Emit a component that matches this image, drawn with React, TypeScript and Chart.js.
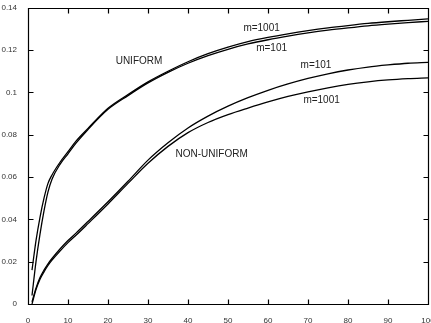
import React, { useEffect, useRef } from "react";
import { Chart, registerables } from "chart.js";

Chart.register(...registerables);

const xs = [1, 2, 3, 4, 5, 6, 8, 10, 12, 15, 20, 25, 30, 35, 40, 45, 50, 55, 60, 65, 70, 75, 80, 85, 90, 95, 100];

const uniform1001 = [0.016, 0.030, 0.041, 0.050, 0.057, 0.061, 0.067, 0.072, 0.077, 0.083, 0.0925, 0.099, 0.105, 0.110, 0.1145, 0.1183, 0.1214, 0.124, 0.126, 0.1277, 0.1292, 0.1305, 0.1316, 0.1326, 0.1334, 0.1341, 0.1348];
const uniform101 = [0.004, 0.020, 0.033, 0.044, 0.053, 0.059, 0.066, 0.071, 0.076, 0.0825, 0.092, 0.0985, 0.1045, 0.1095, 0.1138, 0.1174, 0.1204, 0.1229, 0.1249, 0.1266, 0.1281, 0.1294, 0.1305, 0.1315, 0.1323, 0.133, 0.1336];
const nonUniform101 = [0.001, 0.0075, 0.0125, 0.016, 0.019, 0.0215, 0.026, 0.030, 0.0335, 0.039, 0.0483, 0.058, 0.068, 0.0762, 0.0832, 0.0888, 0.0935, 0.0975, 0.101, 0.104, 0.1066, 0.1088, 0.1106, 0.112, 0.113, 0.1138, 0.1142];
const nonUniform1001 = [0.0, 0.0068, 0.0117, 0.0152, 0.0182, 0.0207, 0.025, 0.029, 0.0325, 0.038, 0.0473, 0.057, 0.0665, 0.0745, 0.081, 0.0858, 0.0895, 0.0926, 0.0955, 0.0981, 0.1003, 0.1022, 0.1038, 0.105, 0.1059, 0.1065, 0.1069];

const xTickValues = [0, 10, 20, 30, 40, 50, 60, 70, 80, 90, 100];
const xTickLabels = ["0", "10", "20", "30", "40", "50", "60", "70", "80", "90", "100"];
const yTickValues = [0, 0.02, 0.04, 0.06, 0.08, 0.1, 0.12, 0.14];
const yTickLabels = ["0", "0.02", "0.04", "0.06", "0.08", "0.1", "0.12", "0.14"];

const annotationTexts = ["UNIFORM", "m=1001", "m=101", "m=101", "m=1001", "NON-UNIFORM"];
const annotationX = [27.75, 58.4, 60.9, 72, 73.4, 45.9];
const annotationY = [0.1147, 0.1304, 0.1208, 0.1128, 0.0964, 0.0707];

const FONT = "'Liberation Sans', Arial, sans-serif";

const toPoints = (ys: number[]) => xs.map((x, i) => ({ x, y: ys[i] }));

const framePlugin = {
  id: "frame",
  afterDraw(chart: any) {
    const ctx = chart.ctx;
    const sx = chart.scales.x;
    const sy = chart.scales.y;
    const left = Math.round(chart.chartArea.left) + 0.5;
    const right = Math.round(chart.chartArea.right) + 0.5;
    const top = Math.round(chart.chartArea.top) + 0.5;
    const bottom = Math.round(chart.chartArea.bottom) + 0.5;
    const tl = 5;
    ctx.save();
    ctx.strokeStyle = "#000";
    ctx.lineWidth = 1.2;
    ctx.beginPath();
    ctx.moveTo(left, top);
    ctx.lineTo(right, top);
    ctx.lineTo(right, bottom);
    ctx.lineTo(left, bottom);
    ctx.closePath();
    for (const v of xTickValues) {
      const px = Math.round(sx.getPixelForValue(v)) + 0.5;
      ctx.moveTo(px, bottom);
      ctx.lineTo(px, bottom - tl);
      ctx.moveTo(px, top);
      ctx.lineTo(px, top + tl);
    }
    for (const v of yTickValues) {
      const py = Math.round(sy.getPixelForValue(v)) + 0.5;
      ctx.moveTo(left, py);
      ctx.lineTo(left + tl, py);
      ctx.moveTo(right, py);
      ctx.lineTo(right - tl, py);
    }
    ctx.stroke();
    ctx.fillStyle = "#222";
    ctx.font = `10px ${FONT}`;
    ctx.textAlign = "center";
    ctx.textBaseline = "middle";
    annotationTexts.forEach((txt, i) => {
      ctx.fillText(txt, sx.getPixelForValue(annotationX[i]), sy.getPixelForValue(annotationY[i]));
    });
    ctx.restore();
  },
};

export default function App() {
  const ref = useRef<HTMLCanvasElement | null>(null);
  useEffect(() => {
    if (!ref.current) return;
    const line = (data: number[]) => ({
      data: toPoints(data),
      borderColor: "#000",
      borderWidth: 1.3,
      pointRadius: 0,
      fill: false,
      cubicInterpolationMode: "monotone" as const,
    });
    const chart = new Chart(ref.current, {
      type: "line",
      data: {
        datasets: [line(uniform1001), line(uniform101), line(nonUniform101), line(nonUniform1001)],
      },
      options: {
        animation: false,
        responsive: false,
        events: [],
        layout: { padding: { top: 5, right: 12, left: 0, bottom: 0 } },
        plugins: { legend: { display: false }, tooltip: { enabled: false } },
        scales: {
          x: {
            type: "linear",
            min: 0,
            max: 100,
            afterFit: (s: any) => { s.height = 19; },
            grid: { display: false },
            border: { display: false },
            ticks: {
              stepSize: 10,
              padding: 4,
              maxRotation: 0,
              autoSkip: false,
              color: "#333",
              font: { size: 8, family: FONT },
              callback: (_v: any, i: number) => xTickLabels[i],
            },
          },
          y: {
            type: "linear",
            min: 0,
            max: 0.14,
            afterFit: (s: any) => { s.width = 28; },
            grid: { display: false },
            border: { display: false },
            ticks: {
              stepSize: 0.02,
              padding: 3,
              autoSkip: false,
              color: "#333",
              font: { size: 8, family: FONT },
              callback: (_v: any, i: number) => yTickLabels[i],
            },
          },
        },
      },
      plugins: [framePlugin],
    });
    return () => chart.destroy();
  }, []);
  return (
    <div style={{ position: "fixed", left: 0, top: 0, width: 431, height: 323, overflow: "hidden", background: "#fff" }}>
      <canvas ref={ref} width={440} height={323} style={{ width: 440, height: 323, display: "block" }} />
    </div>
  );
}
